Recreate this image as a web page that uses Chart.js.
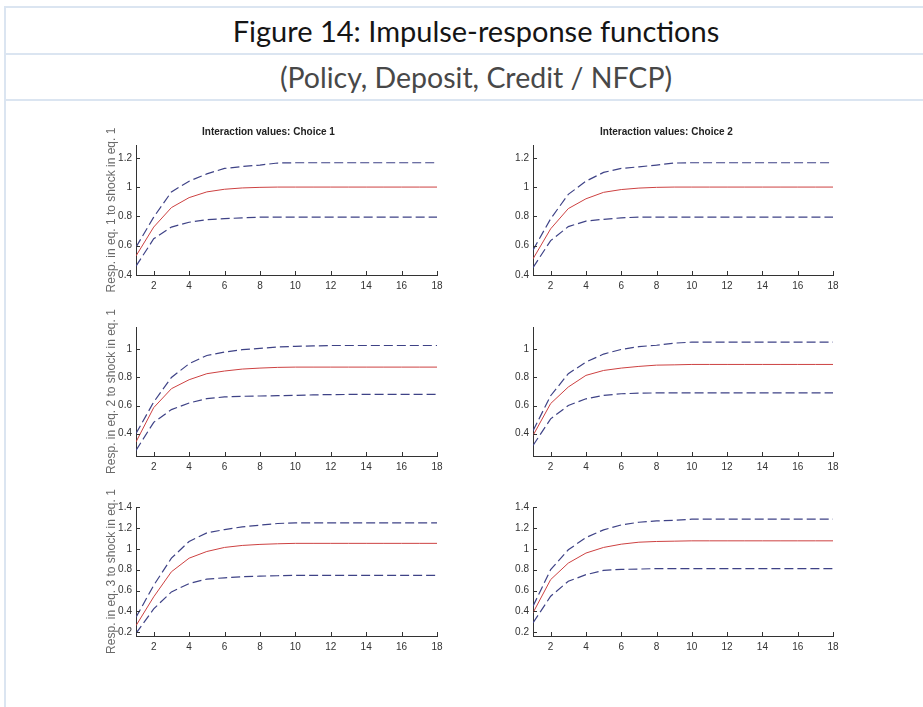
<!DOCTYPE html>
<html>
<head>
<meta charset="utf-8">
<title>Impulse-response functions</title>
<script src="https://cdn.jsdelivr.net/npm/chart.js@4.4.0/dist/chart.umd.min.js"></script>
<style>
  body { margin:0; background:#fff; width:923px; height:707px; overflow:hidden; position:relative; font-family:Lato, 'Open Sans', sans-serif; }
  .frame { position:absolute; left:4px; top:6px; width:940px; height:720px; border-left:2px solid #dbe5f1; border-top:2px solid #dbe5f1; }
  .row { position:absolute; left:0; width:100%; text-align:center; border-bottom:2px solid #dbe5f1; }
  #title { top:0; height:45px; line-height:45px; font-size:29px; color:#151515; }
  #subtitle { top:47px; height:44px; line-height:44px; font-size:28.5px; color:#484848; }
  .panel { position:absolute; }
  #p1 { left:100px; top:108px; width:349px; height:190px; }
  #p2 { left:500px; top:108px; width:345px; height:190px; }
  #p3 { left:100px; top:298px; width:349px; height:180px; }
  #p4 { left:500px; top:298px; width:345px; height:180px; }
  #p5 { left:100px; top:478px; width:349px; height:190px; }
  #p6 { left:500px; top:478px; width:345px; height:190px; }
</style>
</head>
<body>
<div class="frame">
  <div class="row" id="title">Figure 14: Impulse-response functions</div>
  <div class="row" id="subtitle">(Policy, Deposit, Credit / NFCP)</div>
</div>
<div class="panel" id="p1"><canvas></canvas></div>
<div class="panel" id="p2"><canvas></canvas></div>
<div class="panel" id="p3"><canvas></canvas></div>
<div class="panel" id="p4"><canvas></canvas></div>
<div class="panel" id="p5"><canvas></canvas></div>
<div class="panel" id="p6"><canvas></canvas></div>
<script>
// horizons and axis ticks
const horizon = [1,2,3,4,5,6,7,8,9,10,11,12,13,14,15,16,17,18];
const xTicks = [2,4,6,8,10,12,14,16,18];
const yTicksEq1 = [0.4,0.6,0.8,1,1.2];
const yTicksEq2 = [0.4,0.6,0.8,1];
const yTicksEq3 = [0.2,0.4,0.6,0.8,1,1.2,1.4];

const choiceTitles = ['Interaction values: Choice 1','Interaction values: Choice 2'];
const respLabels = ['Resp. in eq. 1 to shock in eq. 1','Resp. in eq. 2 to shock in eq. 1','Resp. in eq. 3 to shock in eq. 1'];

// eq. 1, choice 1
const eq1c1Upper = [0.59,0.795,0.967,1.04,1.09,1.127,1.14,1.15,1.164,1.166,1.166,1.166,1.166,1.166,1.166,1.166,1.166,1.166];
const eq1c1Resp  = [0.53,0.727,0.86,0.928,0.967,0.985,0.994,0.998,1.0,1.0,1.0,1.0,1.0,1.0,1.0,1.0,1.0,1.0];
const eq1c1Lower = [0.46,0.647,0.727,0.76,0.777,0.784,0.79,0.795,0.795,0.795,0.795,0.795,0.795,0.795,0.795,0.795,0.795,0.795];
// eq. 1, choice 2
const eq1c2Upper = [0.57,0.784,0.95,1.04,1.10,1.127,1.138,1.15,1.164,1.166,1.166,1.166,1.166,1.166,1.166,1.166,1.166,1.166];
const eq1c2Resp  = [0.51,0.715,0.853,0.92,0.964,0.983,0.993,0.998,1.0,1.0,1.0,1.0,1.0,1.0,1.0,1.0,1.0,1.0];
const eq1c2Lower = [0.45,0.635,0.73,0.768,0.78,0.79,0.795,0.795,0.795,0.795,0.795,0.795,0.795,0.795,0.795,0.795,0.795,0.795];
// eq. 2, choice 1
const eq2c1Upper = [0.40,0.625,0.80,0.898,0.957,0.981,0.998,1.007,1.017,1.022,1.025,1.028,1.028,1.028,1.028,1.028,1.028,1.028];
const eq2c1Resp  = [0.34,0.585,0.72,0.784,0.827,0.846,0.86,0.867,0.872,0.874,0.874,0.874,0.874,0.874,0.874,0.874,0.874,0.874];
const eq2c1Lower = [0.28,0.48,0.571,0.618,0.649,0.661,0.666,0.668,0.67,0.672,0.676,0.678,0.679,0.679,0.679,0.679,0.679,0.679];
// eq. 2, choice 2
const eq2c2Upper = [0.42,0.67,0.827,0.91,0.967,1.0,1.02,1.03,1.045,1.052,1.052,1.052,1.052,1.052,1.052,1.052,1.052,1.052];
const eq2c2Resp  = [0.386,0.614,0.732,0.815,0.85,0.867,0.879,0.888,0.89,0.893,0.893,0.893,0.893,0.893,0.893,0.893,0.893,0.893];
const eq2c2Lower = [0.315,0.505,0.6,0.648,0.672,0.684,0.688,0.69,0.69,0.69,0.69,0.69,0.69,0.69,0.69,0.69,0.69,0.69];
// eq. 3, choice 1
const eq3c1Upper = [0.344,0.65,0.91,1.07,1.152,1.184,1.21,1.226,1.242,1.248,1.248,1.248,1.248,1.248,1.248,1.248,1.248,1.248];
const eq3c1Resp  = [0.264,0.54,0.78,0.91,0.974,1.013,1.032,1.042,1.048,1.052,1.052,1.052,1.052,1.052,1.052,1.052,1.052,1.052];
const eq3c1Lower = [0.19,0.425,0.587,0.667,0.71,0.722,0.732,0.738,0.742,0.745,0.745,0.745,0.745,0.745,0.745,0.745,0.745,0.745];
// eq. 3, choice 2
const eq3c2Upper = [0.45,0.8,0.99,1.108,1.181,1.228,1.254,1.267,1.273,1.283,1.283,1.283,1.283,1.283,1.283,1.283,1.283,1.283];
const eq3c2Resp  = [0.387,0.705,0.863,0.959,1.013,1.044,1.063,1.07,1.073,1.076,1.076,1.076,1.076,1.076,1.076,1.076,1.076,1.076];
const eq3c2Lower = [0.29,0.546,0.689,0.752,0.794,0.803,0.806,0.81,0.81,0.81,0.81,0.81,0.81,0.81,0.81,0.81,0.81,0.81];

const tickFont = "'Liberation Sans', Arial, sans-serif";
const axisColor = '#333';

// matlab style: ticks point into the plot, ylabel drawn unclipped by axis height
const innerTicks = {
    id: 'innerTicks',
    afterDatasetsDraw(chart, args, opts) {
        const ctx = chart.ctx;
        const a = chart.chartArea;
        const x = chart.scales.x, y = chart.scales.y;
        ctx.save();
        ctx.strokeStyle = axisColor;
        ctx.lineWidth = 1;
        ctx.beginPath();
        x.ticks.forEach(t => {
            const px = Math.round(x.getPixelForValue(t.value)) + 0.5;
            ctx.moveTo(px, a.bottom);
            ctx.lineTo(px, a.bottom - 4);
        });
        y.ticks.forEach(t => {
            const py = Math.round(y.getPixelForValue(t.value)) + 0.5;
            ctx.moveTo(a.left, py);
            ctx.lineTo(a.left + 4, py);
        });
        ctx.stroke();
        if (opts.label) {
            ctx.translate(a.left - opts.offset, (a.top + a.bottom) / 2);
            ctx.rotate(-Math.PI / 2);
            ctx.font = "12px 'Liberation Sans', Arial, sans-serif";
            ctx.fillStyle = '#6a6a6a';
            ctx.textAlign = 'center';
            ctx.textBaseline = 'middle';
            ctx.fillText(opts.label, 0, 0);
        }
        ctx.restore();
    }
};

function toPoints(values) {
    return horizon.map((h, i) => ({x: h, y: values[i]}));
}

function makePanel(id, upper, resp, lower, o) {
    const ctx = document.querySelector('#' + id + ' canvas').getContext('2d');
    const band = {
        borderColor: '#3e4286',
        borderWidth: 1.2,
        borderDash: [9, 4],
        pointRadius: 0,
        tension: 0,
        fill: false
    };
    return new Chart(ctx, {
        type: 'line',
        data: {
            datasets: [
                Object.assign({label: 'upper', data: toPoints(upper)}, band),
                Object.assign({label: 'lower', data: toPoints(lower)}, band),
                {
                    label: 'response',
                    data: toPoints(resp),
                    borderColor: 'rgb(205,65,65)',
                    borderWidth: 1,
                    pointRadius: 0,
                    tension: 0,
                    fill: false
                }
            ]
        },
        options: {
            responsive: true,
            maintainAspectRatio: false,
            animation: false,
            layout: { padding: { top: o.padTop, bottom: o.padBottom, left: 0, right: 12 } },
            plugins: {
                legend: { display: false },
                tooltip: { enabled: false },
                title: {
                    display: !!o.title,
                    text: o.title || '',
                    color: '#222',
                    font: { family: tickFont, size: 10, weight: 'bold' },
                    padding: { top: 18, bottom: 7 }
                },
                innerTicks: { label: o.yLabel, offset: 24 }
            },
            scales: {
                x: {
                    type: 'linear',
                    min: 1,
                    max: 18,
                    afterBuildTicks: s => { s.ticks = xTicks.map(v => ({value: v})); },
                    afterFit: s => { s.height = 20; },
                    grid: { display: false, drawTicks: false },
                    border: { display: true, color: axisColor, width: 1 },
                    ticks: { color: axisColor, padding: 5, font: { family: tickFont, size: 10 }, maxRotation: 0 }
                },
                y: {
                    min: o.yMin,
                    max: o.yMax,
                    afterBuildTicks: s => { s.ticks = o.yTicks.map(v => ({value: v})); },
                    afterFit: s => { s.width = o.axisWidth; },
                    grid: { display: false, drawTicks: false },
                    border: { display: true, color: axisColor, width: 1 },
                    ticks: { color: axisColor, padding: 4, font: { family: tickFont, size: 10 }, callback: v => String(v) }
                }
            }
        },
        plugins: [innerTicks]
    });
}

makePanel('p1', eq1c1Upper, eq1c1Resp, eq1c1Lower, {title: choiceTitles[0], yLabel: respLabels[0], yMin: 0.4, yMax: 1.287, yTicks: yTicksEq1, padTop: 0, padBottom: 3, axisWidth: 36});
makePanel('p2', eq1c2Upper, eq1c2Resp, eq1c2Lower, {title: choiceTitles[1], yMin: 0.4, yMax: 1.287, yTicks: yTicksEq1, padTop: 0, padBottom: 3, axisWidth: 33});
makePanel('p3', eq2c1Upper, eq2c1Resp, eq2c1Lower, {yLabel: respLabels[1], yMin: 0.24, yMax: 1.16, yTicks: yTicksEq2, padTop: 29, padBottom: 2, axisWidth: 36});
makePanel('p4', eq2c2Upper, eq2c2Resp, eq2c2Lower, {yMin: 0.24, yMax: 1.16, yTicks: yTicksEq2, padTop: 29, padBottom: 2, axisWidth: 33});
makePanel('p5', eq3c1Upper, eq3c1Resp, eq3c1Lower, {yLabel: respLabels[2], yMin: 0.165, yMax: 1.4, yTicks: yTicksEq3, padTop: 29, padBottom: 12, axisWidth: 36});
makePanel('p6', eq3c2Upper, eq3c2Resp, eq3c2Lower, {yMin: 0.165, yMax: 1.4, yTicks: yTicksEq3, padTop: 29, padBottom: 12, axisWidth: 33});
</script>
</body>
</html>
